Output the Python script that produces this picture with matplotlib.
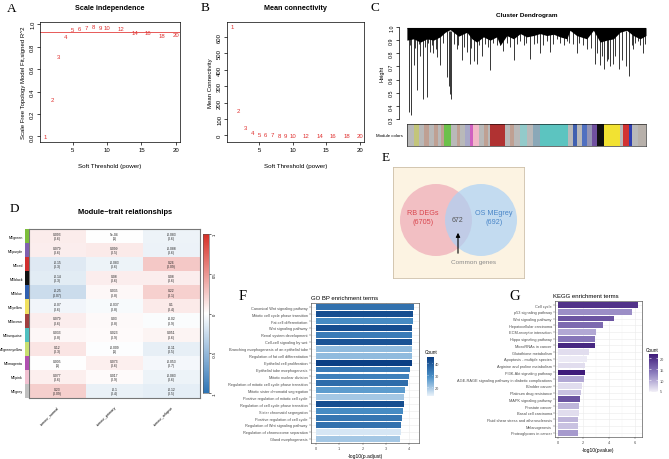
import matplotlib
matplotlib.use("Agg")
import matplotlib.pyplot as plt
import numpy as np
from matplotlib.colors import LinearSegmentedColormap, Normalize
from matplotlib.patches import Circle

plt.rcParams["font.family"] = ["Liberation Sans", "DejaVu Sans"]

W, H = 669, 460
RED = "#E0302F"

# ---- A / B: soft threshold ----
powers = [1, 2, 3, 4, 5, 6, 7, 8, 9, 10, 12, 14, 16, 18, 20]
sft_r2 = [0.0, 0.33, 0.71, 0.89, 0.95, 0.96, 0.97, 0.98, 0.97, 0.97,
          0.96, 0.93, 0.925, 0.90, 0.905]
mean_k = [665, 154, 48, 17, 6, 4, 3, 2, 1.5, 1.2, 0.8, 0.6, 0.5, 0.4, 0.3]
r2_cut = 0.93

# ---- C: dendrogram (leaf position 0-1, merge height) ----
fringe_x = [0.0, 0.028, 0.056, 0.084, 0.111, 0.139, 0.160, 0.181, 0.216, 0.251,
            0.272, 0.292, 0.320, 0.348, 0.376, 0.390, 0.418, 0.446, 0.474, 0.501,
            0.529, 0.557, 0.585, 0.613, 0.641, 0.669, 0.682, 0.710, 0.752, 0.780,
            0.808, 0.836, 0.864, 0.891, 0.919, 0.947, 0.975, 1.0]
fringe_h = [0.90, 0.91, 0.885, 0.91, 0.90, 0.925, 0.96, 0.98, 0.93, 0.96,
            0.91, 0.885, 0.925, 0.90, 0.925, 0.86, 0.935, 0.91, 0.95, 0.925,
            0.935, 0.95, 0.935, 0.945, 0.925, 0.91, 0.975, 0.935, 0.91, 0.975,
            0.885, 0.90, 0.91, 0.96, 0.975, 0.935, 0.91, 0.935]
drops = [(0.007, 0.35), (0.018, 0.33), (0.028, 0.71), (0.042, 0.52), (0.056, 0.78),
         (0.067, 0.45), (0.084, 0.47), (0.098, 0.81), (0.111, 0.80), (0.125, 0.77),
         (0.139, 0.71), (0.167, 0.62), (0.175, 0.55), (0.181, 0.49), (0.184, 0.45),
         (0.209, 0.83), (0.230, 0.75), (0.251, 0.81), (0.265, 0.72), (0.279, 0.74),
         (0.293, 0.72), (0.313, 0.78), (0.348, 0.67), (0.376, 0.86), (0.404, 0.82),
         (0.446, 0.75), (0.474, 0.89), (0.515, 0.76), (0.557, 0.80), (0.599, 0.81),
         (0.627, 0.91), (0.669, 0.89), (0.710, 0.80), (0.752, 0.83), (0.787, 0.72),
         (0.808, 0.71), (0.825, 0.68), (0.843, 0.76), (0.863, 0.72), (0.888, 0.68),
         (0.930, 0.63), (0.947, 0.83), (0.968, 0.89), (0.986, 0.80),
         (0.015, 0.86), (0.035, 0.84), (0.050, 0.87), (0.075, 0.85), (0.090, 0.88),
         (0.105, 0.86), (0.120, 0.83), (0.150, 0.88), (0.195, 0.87), (0.215, 0.86),
         (0.240, 0.85), (0.270, 0.84), (0.300, 0.86), (0.325, 0.87), (0.340, 0.85),
         (0.360, 0.88), (0.390, 0.86), (0.420, 0.88), (0.430, 0.85), (0.460, 0.87),
         (0.490, 0.86), (0.500, 0.88), (0.530, 0.87), (0.545, 0.88), (0.570, 0.86),
         (0.585, 0.89), (0.610, 0.87), (0.640, 0.88), (0.655, 0.86), (0.680, 0.88),
         (0.695, 0.87), (0.720, 0.88), (0.735, 0.86), (0.770, 0.84), (0.795, 0.80),
         (0.815, 0.78), (0.835, 0.74), (0.850, 0.70), (0.870, 0.78), (0.900, 0.75),
         (0.915, 0.70), (0.940, 0.86), (0.955, 0.88), (0.975, 0.86), (0.995, 0.87)]
module_edges = [20, 40, 55, 70, 85, 100, 112, 122, 130, 152, 170, 180, 195, 210, 218,
                235, 250, 262, 270, 315, 330, 340, 360, 380, 400, 420, 505, 520, 530,
                545, 560, 575, 590, 612, 660, 668, 686, 695, 715, 738]
GR, TN = "#B9B9B9", "#BFA093"
module_cols = [GR, "#C3C57A", GR, TN, GR, TN, GR, TN, "#6CC04A", GR, TN, GR,
               "#A8A8C8", "#D060C0", "#F2B8C8", GR, TN, GR, "#B03232", GR, TN, GR,
               "#92CACA", GR, "#8AA8B8", "#5CC4C0", GR, "#4060B0", GR, "#5070C0",
               "#9494B4", "#7050A0", "#111111", "#F2E232", GR, "#D23232", "#3040B0",
               GR, "#B7B0AA"]

# ---- D: module-trait ----
modules = ["MEgreen", "MEpurple", "MEred", "MEblack", "MEblue", "MEyellow", "MEbrown",
           "MEturquoise", "MEgreenyellow", "MEmagenta", "MEpink", "MEgrey"]
module_bar = ["#7DBE3C", "#8060B0", "#D03030", "#111111", "#3060B0", "#F0E060",
              "#A04040", "#50C0C0", "#C8E070", "#B050B0", "#F0C0D0", "#C0C0C0"]
traits = ["tumour_normal", "tumour_primary", "tumour_relapse"]
cor1 = [0.093, 0.079, -0.15, -0.14, -0.25, -0.07, 0.079, 0.033, 0.12, 0.005, 0.077, 0.23]
p1 = [0.6, 0.6, 0.3, 0.3, 0.07, 0.6, 0.6, 0.8, 0.3, 1, 0.6, 0.09]
cor2 = [5e-04, 0.099, -0.083, 0.08, 0.035, -0.037, 0.03, 0.023, -0.009, 0.073, 0.017, -0.1]
p2 = [1, 0.5, 0.6, 0.6, 0.8, 0.8, 0.8, 0.9, 1, 0.6, 0.9, 0.4]
cor3 = [-0.083, -0.088, 0.26, 0.08, 0.22, 0.1, -0.02, 0.051, -0.11, -0.053, -0.083, -0.12]
p3 = [0.6, 0.6, 0.09, 0.6, 0.1, 0.4, 0.9, 0.6, 0.5, 0.7, 0.6, 0.5]

# ---- E: venn ----
rb_degs, os_megrey, common = 6705, 692, 672

# ---- F: GO BP ----
go_terms = ["Canonical Wnt signaling pathway", "Mitotic cell cycle phase transition",
            "Fat cell differentiation", "Wnt signaling pathway", "Renal system development",
            "Cell-cell signaling by wnt", "Branching morphogenesis of an epithelial tube",
            "Regulation of fat cell differentiation", "Epithelial cell proliferation",
            "Epithelial tube morphogenesis", "Mitotic nuclear division",
            "Regulation of mitotic cell cycle phase transition",
            "Mitotic sister chromatid segregation", "Positive regulation of mitotic cell cycle",
            "Regulation of cell cycle phase transition", "Sister chromatid segregation",
            "Positive regulation of cell cycle", "Regulation of Wnt signaling pathway",
            "Regulation of chromosome separation", "Gland morphogenesis"]
go_logp = [4.20, 4.16, 4.16, 4.12, 4.12, 4.12, 4.09, 4.09, 4.09, 4.03,
           3.99, 3.92, 3.80, 3.77, 3.76, 3.73, 3.69, 3.66, 3.62, 3.59]
go_count = [35, 42, 30, 42, 33, 41, 22, 22, 45, 33,
            32, 36, 27, 20, 42, 30, 34, 35, 15, 20]

# ---- G: KEGG ----
kegg_terms = ["Cell cycle", "p53 signaling pathway", "Wnt signaling pathway",
              "Hepatocellular carcinoma", "ECM-receptor interaction", "Hippo signaling pathway",
              "MicroRNAs in cancer", "Glutathione metabolism", "Apoptosis - multiple species",
              "Arginine and proline metabolism", "PI3K-Akt signaling pathway",
              "AGE-RAGE signaling pathway in diabetic complications", "Bladder cancer",
              "Platinum drug resistance", "MAPK signaling pathway", "Prostate cancer",
              "Basal cell carcinoma", "Fluid shear stress and atherosclerosis",
              "Melanogenesis", "Proteoglycans in cancer"]
kegg_logp = [6.23, 5.74, 4.39, 3.56, 2.97, 2.89, 2.89, 2.40, 2.25, 2.09,
             2.09, 2.04, 1.89, 1.83, 1.73, 1.68, 1.63, 1.60, 1.58, 1.55]
kegg_count = [20, 12, 17, 15, 10, 14, 21, 6, 5, 6,
              22, 10, 6, 8, 17, 9, 6, 9, 8, 11]


def box(x0, y0, x1, y1):
    return [x0 / W, 1 - y1 / H, (x1 - x0) / W, (y1 - y0) / H]


def ftext(x, y, s, **kw):
    fig.text(x / W, 1 - y / H, s, **kw)


def letter(x, y, s, size=9.5):
    ftext(x, y, s, fontsize=size, family="Liberation Serif", ha="center", va="center")


def r_axes(ax):
    for s in ax.spines.values():
        s.set_linewidth(0.5)
    ax.tick_params(length=2, width=0.5, labelsize=4.3, pad=1.5)
    for lab in ax.get_yticklabels():
        lab.set_rotation(90)
        lab.set_va("center")


fig = plt.figure(figsize=(W / 100, H / 100), dpi=100)

# A
ax = fig.add_axes(box(40, 23, 180, 143))
ax.set_xlim(0.25, 20.6)
ax.set_ylim(-0.05, 1.02)
for p, r in zip(powers, sft_r2):
    ax.text(p, r, str(p), color=RED, fontsize=4.3, ha="center", va="center")
ax.axhline(r2_cut, color=RED, lw=0.7, alpha=0.8)
ax.set_xticks([5, 10, 15, 20])
ax.set_yticks(np.arange(0, 1.01, 0.2))
ax.set_yticklabels([f"{v:.1f}" for v in np.arange(0, 1.01, 0.2)])
ax.set_xlabel("Soft Threshold (power)", fontsize=4.5, labelpad=8)
ax.set_ylabel("Scale Free Topology Model Fit,signed R^2", fontsize=4.3, labelpad=3)
r_axes(ax)
ftext(110, 9, "Scale independence", fontsize=5.2, weight="bold", ha="center", va="center")
letter(12, 9, "A")

# B
ax = fig.add_axes(box(227, 23, 364, 143))
ax.set_xlim(0.25, 20.6)
ax.set_ylim(-40, 690)
for p, k in zip(powers, mean_k):
    ax.text(p, k, str(p), color=RED, fontsize=4.3, ha="center", va="center")
ax.set_xticks([5, 10, 15, 20])
ax.set_yticks(range(0, 601, 100))
ax.set_xlabel("Soft Threshold (power)", fontsize=4.5, labelpad=8)
ax.set_ylabel("Mean Connectivity", fontsize=4.3, labelpad=3)
r_axes(ax)
ftext(295, 9, "Mean connectivity", fontsize=5.2, weight="bold", ha="center", va="center")
letter(205, 8, "B")

# C
ax = fig.add_axes(box(399, 28, 646, 120))
ax.set_xlim(-0.033, 1.0)
ax.set_ylim(0.3, 1.0)
ax.fill_between(fringe_x, fringe_h, 0.995, color="black", lw=0)
ax.hlines(0.995, 0, 1, color="black", lw=0.8)
for x, h in drops:
    ax.vlines(x, h, 0.97, color="black", lw=0.55)
for side in ["top", "right", "bottom"]:
    ax.spines[side].set_visible(False)
ax.set_xticks([])
ax.set_yticks(np.arange(0.3, 1.01, 0.1))
ax.set_yticklabels([f"{v:.1f}" for v in np.arange(0.3, 1.01, 0.1)])
ax.set_ylabel("Height", fontsize=4.0, labelpad=3)
r_axes(ax)
ax.tick_params(labelsize=3.8)
ftext(527, 15, "Cluster Dendrogram", fontsize=4.6, weight="bold", ha="center", va="center")
letter(375, 8, "C")

ax = fig.add_axes(box(407, 125, 646, 147))
for x0, x1, c in zip(module_edges[:-1], module_edges[1:], module_cols):
    ax.axvspan(x0, x1, color=c, lw=0)
ax.set_xlim(module_edges[0], module_edges[-1])
ax.set_xticks([])
ax.set_yticks([])
for s in ax.spines.values():
    s.set_linewidth(0.4)
ftext(403, 136, "Module colors", fontsize=3.2, ha="right", va="center")

# D
cor = np.array([cor1, cor2, cor3]).T
pv = np.array([p1, p2, p3]).T
bwr = LinearSegmentedColormap.from_list("bwr", ["#2E75B6", "#FFFFFF", "#D73027"])


def fmt(v):
    if v != 0 and abs(v) < 0.001:
        return f"{v:.0e}"
    return f"{v:.2g}"


ax = fig.add_axes(box(29, 230, 200, 399))
ax.imshow(cor, cmap=bwr, vmin=-1, vmax=1, aspect="auto")
for i in range(cor.shape[0]):
    for j in range(cor.shape[1]):
        ax.text(j, i, f"{fmt(cor[i, j])}\n({fmt(pv[i, j])})", fontsize=2.4,
                ha="center", va="center", color="#222222", linespacing=1.1)
ax.set_yticks([])
ax.set_xticks(range(len(traits)))
ax.set_xticklabels(traits, rotation=45, ha="right", va="top", rotation_mode="anchor",
                   fontsize=2.7)
ax.tick_params(length=0, pad=5)
for s in ax.spines.values():
    s.set_color("#777777")
    s.set_linewidth(0.8)

ax = fig.add_axes(box(25, 230, 28.5, 399))
ax.barh(range(len(modules)), 1, height=1.0, color=module_bar, lw=0)
ax.set_ylim(len(modules) - 0.5, -0.5)
ax.set_xlim(0, 1)
ax.set_xticks([])
ax.set_yticks(range(len(modules)))
ax.set_yticklabels(modules, fontsize=2.5)
ax.tick_params(length=0, pad=1.5)
for s in ax.spines.values():
    s.set_visible(False)

ax = fig.add_axes(box(203, 235, 209, 394))
ax.imshow(np.linspace(-1, 1, 200)[:, None], cmap=bwr, vmin=-1, vmax=1, aspect="auto",
          origin="lower", extent=[0, 1, -1, 1])
ax.set_xticks([])
ax.yaxis.tick_right()
ax.set_yticks([-1, -0.5, 0, 0.5, 1])
ax.set_yticklabels(["-1", "-0.5", "0", "0.5", "1"], rotation=90, va="center", fontsize=3.0)
ax.tick_params(length=1.5, width=0.4, pad=1)
for s in ax.spines.values():
    s.set_linewidth(0.4)
    s.set_color("#555555")
ftext(125, 213, "Module\u2212trait relationships", fontsize=5.4, weight="bold",
      ha="center", va="center")
letter(14, 209, "D")

# E
ax = fig.add_axes(box(393, 168, 524, 279))
ax.set_xlim(393, 524)
ax.set_ylim(279, 168)
ax.set_facecolor("#FCF3E2")
ax.set_xticks([])
ax.set_yticks([])
for s in ax.spines.values():
    s.set_color("#CDBFA8")
    s.set_linewidth(0.6)
ax.add_patch(Circle((436, 221), 36, color="#EEA9B6", alpha=0.7, lw=0))
ax.add_patch(Circle((481, 221), 36, color="#ABD1F6", alpha=0.7, lw=0))
ax.text(423, 218, f"RB DEGs\n({rb_degs})", color="#D9474F", fontsize=5.2,
        ha="center", va="center", linespacing=1.3)
ax.text(494, 218, f"OS MEgrey\n({os_megrey})", color="#4A86C8", fontsize=5.2,
        ha="center", va="center", linespacing=1.3)
ax.text(458, 220, str(common), color="#555555", fontsize=5.0, ha="center", va="center")
ax.annotate("", xy=(458, 231), xytext=(458, 257),
            arrowprops=dict(arrowstyle="-|>", color="black", lw=0.8, mutation_scale=6))
ax.text(474, 263, "Common genes", color="#8A8A8A", fontsize=4.6, ha="center", va="center")
letter(386, 158, "E")


# F / G
def enrich(axbox, terms, vals, counts, cmap, vmin, vmax, xlim, xticks):
    ax = fig.add_axes(box(*axbox))
    norm = Normalize(vmin, vmax)
    y = np.arange(len(terms))
    ax.barh(y, vals, height=0.85, color=cmap(norm(np.array(counts))), zorder=3)
    ax.set_ylim(len(terms) - 0.4, -0.6)
    ax.set_xlim(*xlim)
    ax.set_yticks(y)
    ax.set_yticklabels(terms, fontsize=2.6, color="#4D4D4D")
    ax.set_xticks(xticks)
    ax.set_xticks([(a + b) / 2 for a, b in zip(xticks[:-1], xticks[1:])], minor=True)
    ax.tick_params(labelsize=2.8, length=1.3, width=0.3, pad=1, colors="#4D4D4D")
    ax.tick_params(which="minor", length=0)
    ax.grid(True, which="major", color="#EBEBEB", lw=0.4, zorder=0)
    ax.grid(True, which="minor", axis="x", color="#F2F2F2", lw=0.25, zorder=0)
    for s in ax.spines.values():
        s.set_color("#333333")
        s.set_linewidth(0.4)
    return ax


def legend_bar(cbbox, cmap, vmin, vmax, ticks, title_xy):
    ax = fig.add_axes(box(*cbbox))
    ax.imshow(np.linspace(vmin, vmax, 200)[:, None], cmap=cmap, vmin=vmin, vmax=vmax,
              aspect="auto", origin="lower", extent=[0, 1, vmin, vmax])
    for t in ticks:
        ax.hlines(t, 0, 0.2, color="white", lw=0.4)
        ax.hlines(t, 0.8, 1, color="white", lw=0.4)
    ax.set_xlim(0, 1)
    ax.set_ylim(vmin, vmax)
    ax.set_xticks([])
    ax.yaxis.tick_right()
    ax.set_yticks(ticks)
    ax.set_yticklabels([str(t) for t in ticks], fontsize=2.8, color="#4D4D4D")
    ax.tick_params(length=0, pad=1.5)
    for s in ax.spines.values():
        s.set_visible(False)
    ftext(title_xy[0], title_xy[1], "Count", fontsize=3.4, ha="left", va="center")


blues = LinearSegmentedColormap.from_list("bl", ["#EAF2FA", "#4A90C8", "#0B3F84"])
ax = enrich((311, 304, 419, 444), go_terms, go_logp, go_count, blues, 13, 45,
            (-0.21, 4.41), [0, 1, 2, 3, 4])
ax.set_xlabel("-log10(p.adjust)", fontsize=3.6, labelpad=2)
legend_bar((427, 358, 433, 397), blues, 13, 45, [20, 30, 40], (425, 353))
ftext(311, 299, "GO BP enrichment terms", fontsize=4.3, ha="left", va="center")
letter(243, 297, "F", size=10.5)

purples = LinearSegmentedColormap.from_list("pu", ["#F2F0F8", "#8C7DBE", "#3F1C7A"])
ax = enrich((555, 302, 642, 438), kegg_terms, kegg_logp, kegg_count, purples, 4.5, 22,
            (-0.2, 6.55), [0, 2, 4, 6])
ax.set_xlabel("-log10(pvalue)", fontsize=3.6, labelpad=2)
legend_bar((649, 355, 658, 393), purples, 4.5, 22, [5, 10, 15, 20], (646, 350))
ftext(553, 297, "KEGG enrichment terms", fontsize=4.3, ha="left", va="center")
letter(515, 297, "G", size=10.5)

fig.savefig("out.png", dpi=100)
